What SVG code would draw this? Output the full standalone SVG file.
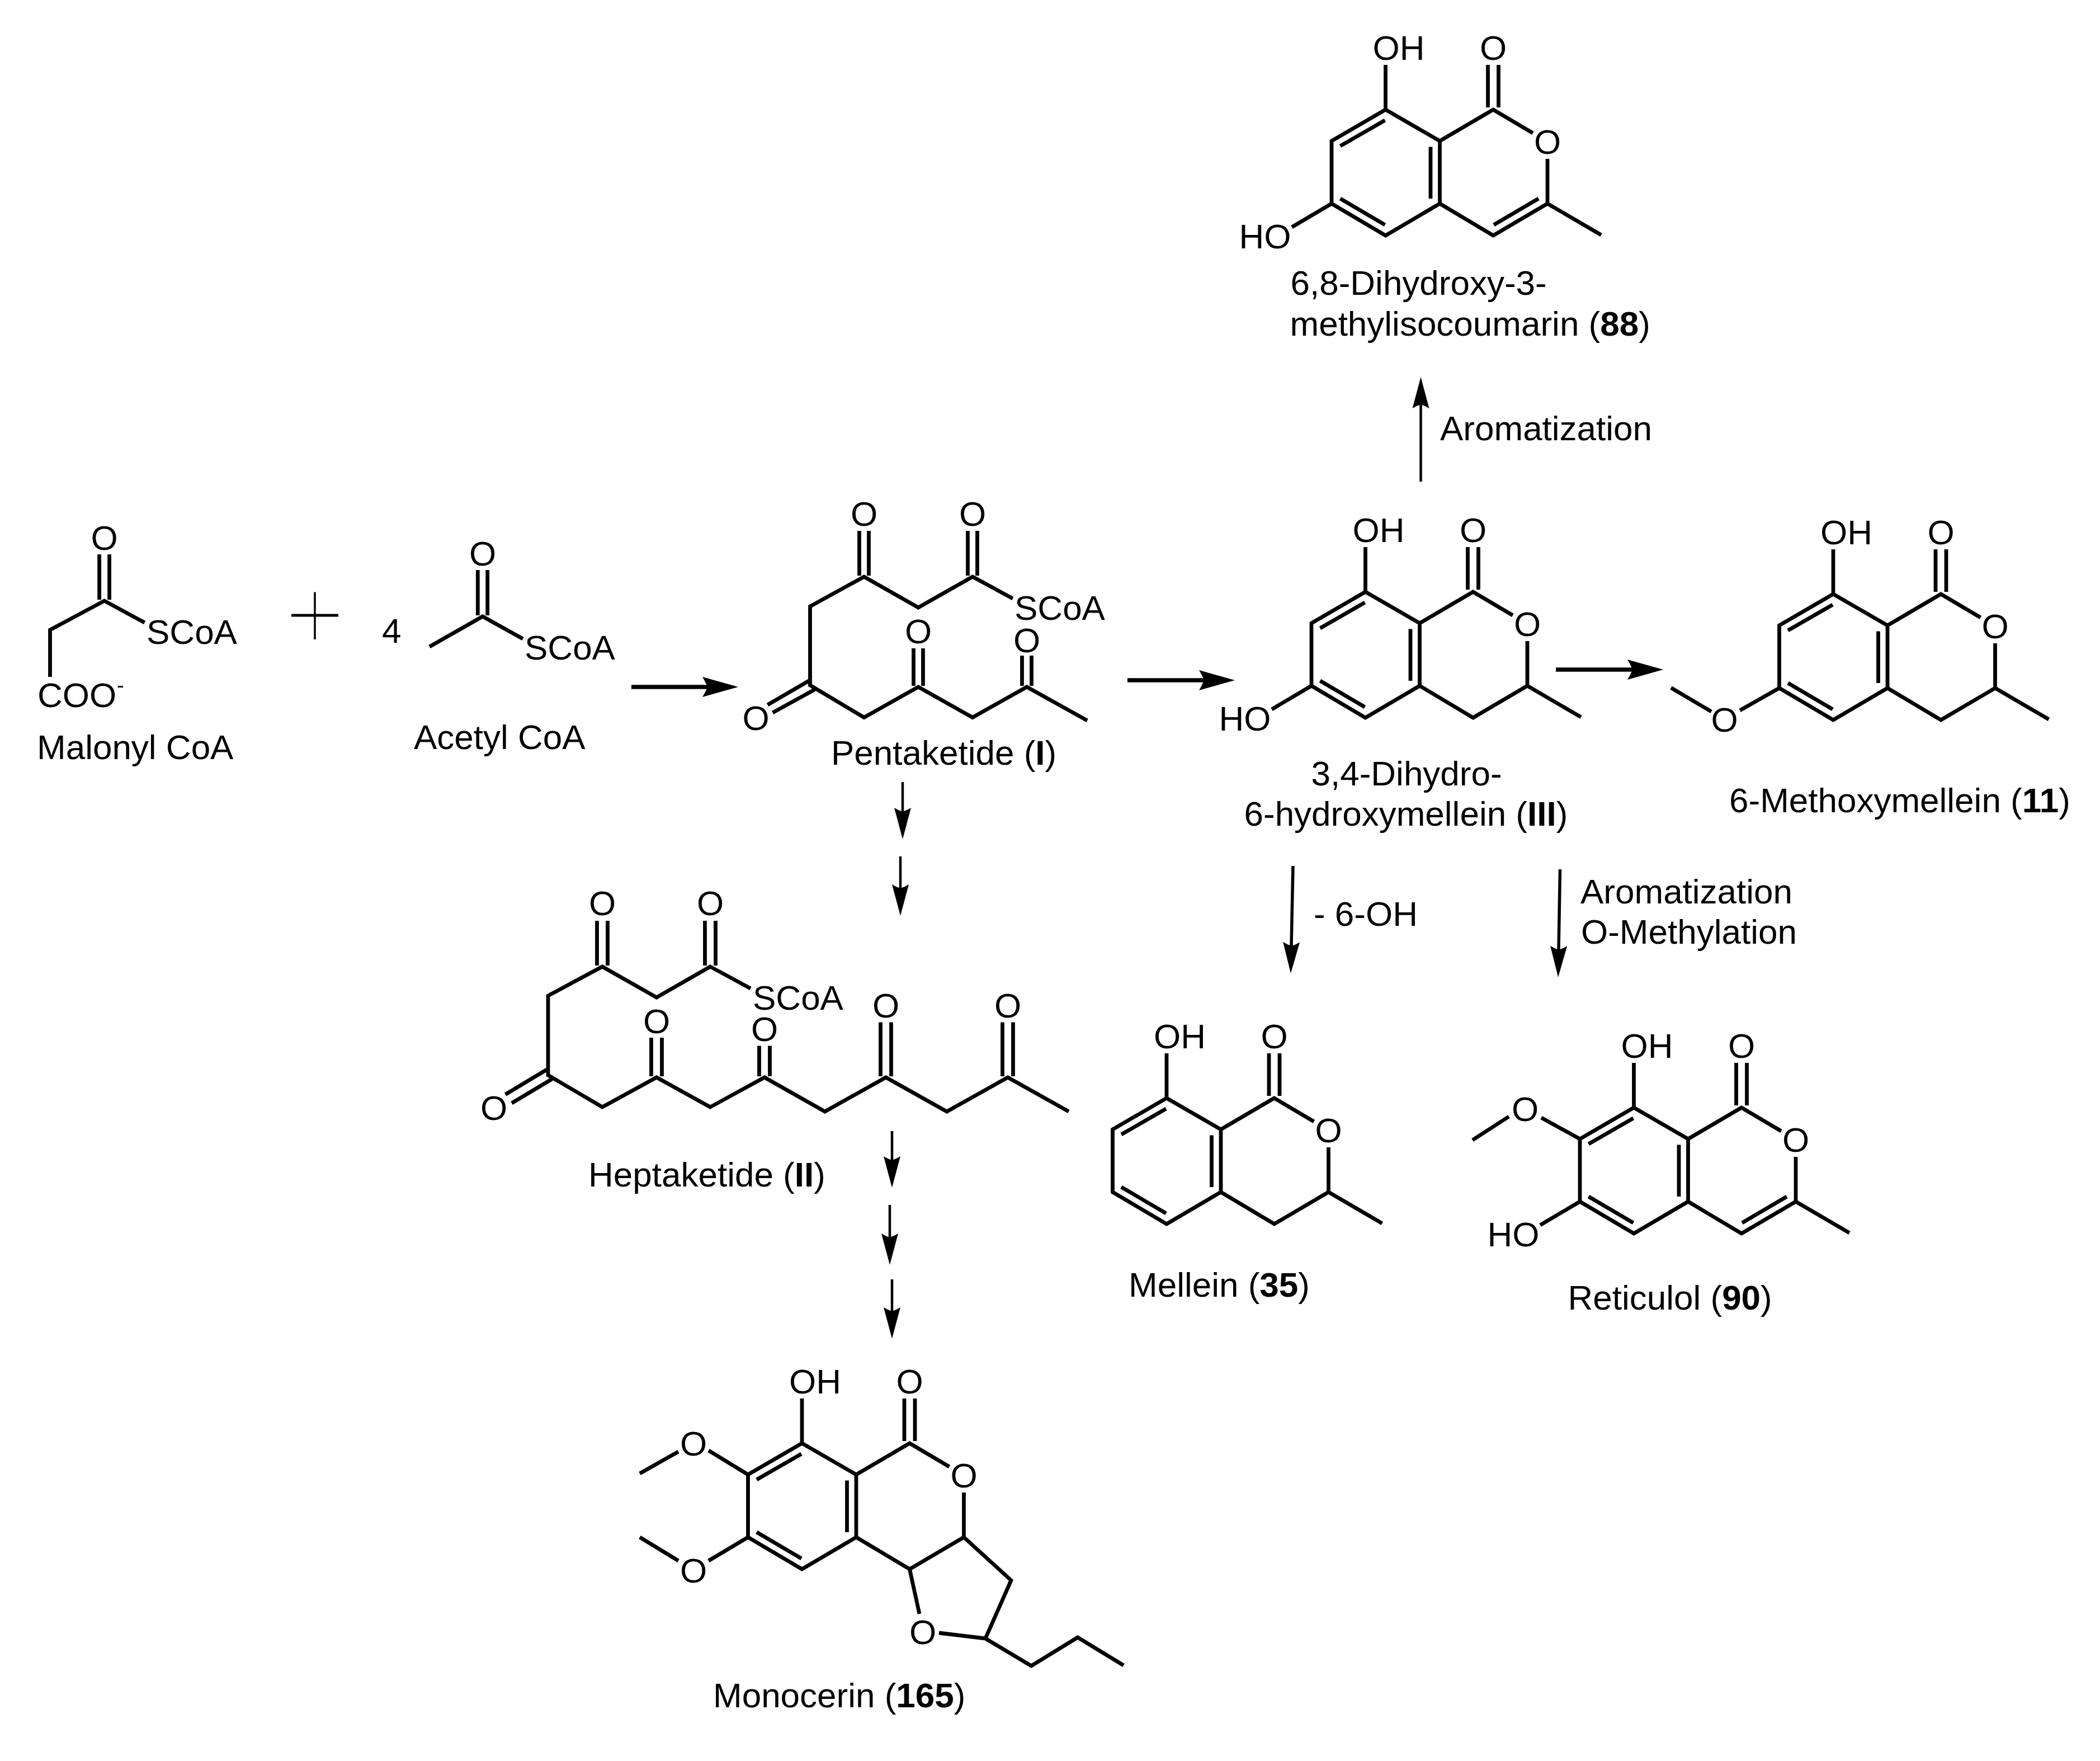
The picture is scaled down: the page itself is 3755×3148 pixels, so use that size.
<svg xmlns="http://www.w3.org/2000/svg" xmlns:xlink="http://www.w3.org/1999/xlink" width="3755" height="3148" viewBox="0 0 3755 3148">
<style>
text{font-family:"Liberation Sans",Arial,sans-serif;font-size:62px;fill:#000}
.m{text-anchor:middle}
.b{font-weight:bold}
.bond{fill:none;stroke:#000;stroke-width:6.8;stroke-linejoin:miter;stroke-linecap:butt}
.big{fill:none;stroke:#000;stroke-width:7.5}
.small{fill:none;stroke:#000;stroke-width:4.5}
.mid{fill:none;stroke:#000;stroke-width:5.5}
.plus{fill:none;stroke:#000}
</style>
<defs>
<marker id="headS" markerUnits="userSpaceOnUse" markerWidth="56" markerHeight="30" viewBox="0 0 56 30" refX="7" refY="15" orient="auto"><path d="M56 15L0 0Q5 8 7 15Q5 22 0 30Z" fill="#000"/></marker>
<marker id="headL" markerUnits="userSpaceOnUse" markerWidth="64" markerHeight="36" viewBox="0 0 64 36" refX="9" refY="18" orient="auto"><path d="M64 18L0 0Q6 10 9 18Q6 26 0 36Z" fill="#000"/></marker>
<path id="core" class="bond" d="M0-80V0L-96.5 56V168L0 225L97 168V56L0 0M97 56L192.5 0L263.5 42M289.5 88V168L192.5 225L97 168M183-80V-4M202-80V-4M-1 19L-81 65M-81 159L-1 206M80.5 66.5V159"/>
</defs>
<rect width="3755" height="3148" fill="#fff"/>

<g id="connectors">
<path class="big" marker-end="url(#headL)" d="M1129 1228H1265"/>
<path class="big" marker-end="url(#headL)" d="M2016 1216H2153"/>
<path class="big" marker-end="url(#headL)" d="M2782 1197H2919"/>
<path class="small" marker-end="url(#headS)" d="M2540.5 861V723"/>
<path class="small" marker-end="url(#headS)" d="M1614 1398V1451"/>
<path class="small" marker-end="url(#headS)" d="M1610 1531V1588"/>
<path class="small" marker-end="url(#headS)" d="M1595 2022V2074"/>
<path class="small" marker-end="url(#headS)" d="M1591 2154V2212"/>
<path class="small" marker-end="url(#headS)" d="M1595 2287V2344"/>
<path class="mid" marker-end="url(#headS)" d="M2312 1548L2309 1691"/>
<path class="mid" marker-end="url(#headS)" d="M2789.5 1554L2787 1698"/>
</g>

<g id="plus"><path class="plus" stroke-width="3.5" d="M563 1058.5V1143"/><path class="plus" stroke-width="5" d="M521 1100H605"/></g>

<g id="malonyl-coa">
<path class="bond" d="M89.5 1210V1126L186.6 1074L258.7 1113M177.6 991V1072M195.6 991V1072"/>
<text class="m" x="186.6" y="983">O</text>
<text x="262" y="1151">SCoA</text>
<text x="67" y="1264">COO</text>
<text x="209" y="1238" style="font-size:38px">-</text>
<text x="66" y="1357">Malonyl CoA</text>
</g>

<g id="acetyl-coa">
<text x="683" y="1149">4</text>
<path class="bond" d="M768 1156L863 1102L935 1142M854.3 1019V1100M871.7 1019V1100"/>
<text class="m" x="863" y="1011">O</text>
<text x="938" y="1179">SCoA</text>
<text x="740" y="1339">Acetyl CoA</text>
</g>

<g id="pentaketide">
<path class="bond" d="M1811 1070L1739 1031L1642 1086L1545 1031L1448.5 1084V1225L1545 1282.5L1642 1228L1739 1282.5L1836 1228L1944 1288M1536.5 949V1029M1553.5 949V1029M1730.5 949V1029M1747.5 949V1029M1633.5 1159V1226M1650.5 1159V1226M1827.5 1172V1226M1844.5 1172V1226M1372.5 1260L1449 1215.5M1381.6 1274L1456.6 1232.7"/>
<text class="m" x="1545" y="940">O</text>
<text class="m" x="1739" y="940">O</text>
<text class="m" x="1642" y="1150">O</text>
<text class="m" x="1836" y="1166">O</text>
<text class="m" x="1351.5" y="1305">O</text>
<text x="1814" y="1108">SCoA</text>
<text x="1486" y="1367">Pentaketide (<tspan class="b">I</tspan>)</text>
</g>

<g id="heptaketide">
<path class="bond" d="M1342 1767L1270 1728L1174 1783L1077 1728L980 1780V1922L1077 1979L1174 1926L1270 1979L1367 1926L1475 1987L1584 1926L1693 1987L1802 1926L1911 1987M1067.5 1646V1726M1086.5 1646V1726M1260.5 1646V1726M1279.5 1646V1726M1164.5 1855V1924M1183.5 1855V1924M1357.5 1869.5V1924M1376.5 1869.5V1924M1574.5 1827.6V1924M1593.5 1827.6V1924M1792.5 1827.6V1924M1811.5 1827.6V1924M903.6 1956.5L977.7 1912M915 1972L987 1929"/>
<text class="m" x="1077" y="1636">O</text>
<text class="m" x="1270" y="1636">O</text>
<text class="m" x="1174" y="1847">O</text>
<text class="m" x="1367" y="1861">O</text>
<text class="m" x="1584" y="1819">O</text>
<text class="m" x="1802" y="1819">O</text>
<text class="m" x="883" y="2002">O</text>
<text x="1346" y="1805">SCoA</text>
<text x="1052" y="2121">Heptaketide (<tspan class="b">II</tspan>)</text>
</g>

<g id="compound-88" transform="translate(2477.5 196)">
<use xlink:href="#core" href="#core"/>
<path class="bond" d="M289.5 168L385.5 224M273.5 159L193.5 206M-96.5 168L-167.5 210"/>
<text x="-23" y="-89">OH</text>
<text class="m" x="192.5" y="-89">O</text>
<text class="m" x="289.5" y="79">O</text>
<text x="-262" y="248">HO</text>
<text x="-170" y="331">6,8-Dihydroxy-3-</text>
<text x="-171" y="404">methylisocoumarin (<tspan class="b">88</tspan>)</text>
</g>

<g id="compound-III" transform="translate(2441.5 1058)">
<use xlink:href="#core" href="#core"/>
<path class="bond" d="M289.5 168L385.5 224M-96.5 168L-167.5 210"/>
<text x="-23" y="-89">OH</text>
<text class="m" x="192.5" y="-89">O</text>
<text class="m" x="289.5" y="79">O</text>
<text x="-262" y="248">HO</text>
<text x="-97" y="346">3,4-Dihydro-</text>
<text x="-217" y="418">6-hydroxymellein (<tspan class="b">III</tspan>)</text>
</g>

<g id="compound-11" transform="translate(3278 1062)">
<use xlink:href="#core" href="#core"/>
<path class="bond" d="M289.5 168L385.5 224M-96.5 168L-167 208M-218 210L-290 167.5"/>
<text x="-23" y="-89">OH</text>
<text class="m" x="192.5" y="-89">O</text>
<text class="m" x="289.5" y="79">O</text>
<text class="m" x="-194.5" y="246">O</text>
<text x="-186" y="390">6-Methoxymellein (<tspan class="b">11</tspan>)</text>
</g>

<g id="compound-35" transform="translate(2086 1963)">
<use xlink:href="#core" href="#core"/>
<path class="bond" d="M289.5 168L385.5 224"/>
<text x="-23" y="-89">OH</text>
<text class="m" x="192.5" y="-89">O</text>
<text class="m" x="289.5" y="79">O</text>
<text x="-68" y="355">Mellein (<tspan class="b">35</tspan>)</text>
</g>

<g id="compound-90" transform="translate(2921.5 1980)">
<use xlink:href="#core" href="#core"/>
<path class="bond" d="M289.5 168L385.5 224M273.5 159L193.5 206M-96.5 168L-167.5 210M-96.5 56L-165.5 18M-223.5 16L-288.5 58"/>
<text x="-23" y="-89">OH</text>
<text class="m" x="192.5" y="-89">O</text>
<text class="m" x="289.5" y="79">O</text>
<text class="m" x="-194.5" y="24">O</text>
<text x="-262" y="248">HO</text>
<text x="-118" y="361">Reticulol (<tspan class="b">90</tspan>)</text>
</g>

<g id="compound-165" transform="translate(1434 2580)">
<use xlink:href="#core" href="#core"/>
<path class="bond" d="M289.5 168L374 245L328 349L245 339M192.5 225L210 305M328 349L410 398L493 347L575 397M-96.5 56L-167 13M-221 15L-290 54M-96.5 168L-167 210M-221 210L-290 168"/>
<text x="-23" y="-89">OH</text>
<text class="m" x="192.5" y="-89">O</text>
<text class="m" x="289.5" y="79">O</text>
<text class="m" x="216" y="359">O</text>
<text class="m" x="-194" y="22">O</text>
<text class="m" x="-194" y="249">O</text>
<text x="-159" y="472">Monocerin (<tspan class="b">165</tspan>)</text>
</g>

<g id="labels">
<text x="2575" y="787">Aromatization</text>
<text x="2349" y="1655">- 6-OH</text>
<text x="2826" y="1615">Aromatization</text>
<text x="2827" y="1687">O-Methylation</text>
</g>
</svg>
